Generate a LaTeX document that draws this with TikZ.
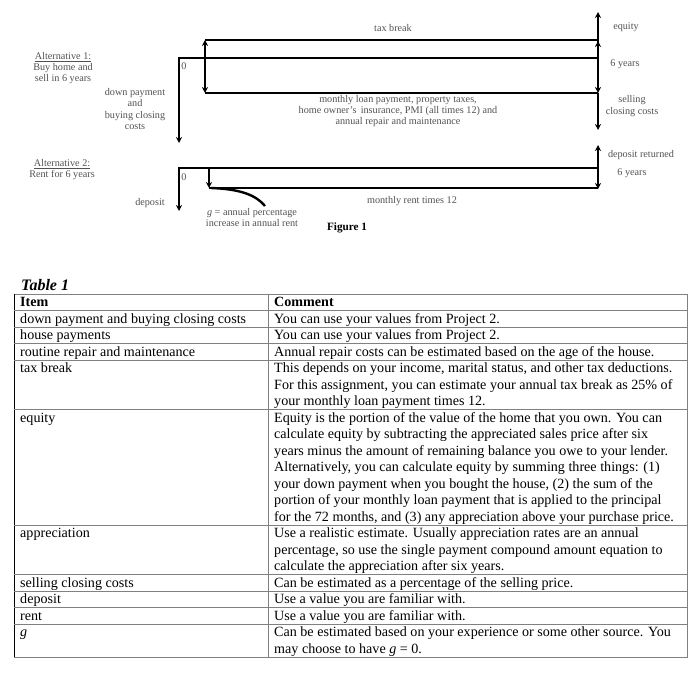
\documentclass[tikz,border=0pt]{standalone}
\usepackage{fontspec}
\setmainfont{Liberation Serif}
\usetikzlibrary{arrows.meta}
\tikzset{
	cf/.style={line width=2pt, line join=miter},
	lab/.style={text=black!68, font=\fontsize{10.2}{11}\selectfont, align=center, inner sep=0},
	cell/.style={anchor=north west, inner sep=0, align=left, font=\fontsize{14.1}{16.5}\selectfont},
	rule/.style={draw=black!50, line width=0.8pt}
}
\begin{document}
\begin{tikzpicture}[x=1pt,y=-1pt,>={Stealth[length=6pt,width=6pt]}]
			\useasboundingbox (0,0) rectangle (700,676);
			\draw[cf,->] (598,58) -- (179,58) -- (179,143);
			\draw[cf] (598,40) -- (205,40);
			\draw[cf] (598,93) -- (205,93);
			\draw[cf,<->] (205,40) -- (205,93);
			\draw[cf,->] (598,58) -- (598,12);
			\draw[cf,->] (598,58) -- (598,41);
			\draw[cf,->] (598,58) -- (598,93);
			\draw[cf,->] (598,93) -- (598,130);
			\draw[cf,->] (598,168) -- (179,168) -- (179,211);
			\draw[cf,->] (209,168) -- (209,188);
			\draw[cf] (209,188) -- (598,188);
			\draw[cf,->] (598,168) -- (598,145);
			\draw[cf,->] (598,168) -- (598,189);
			\draw[cf,line width=2.4pt] (211,188) .. controls (240,189) and (256,195) .. (265,206);
			\node[lab] (altA) at (63,68) {\underline{Alternative 1:}\\Buy home and\\sell in 6 years};
			\node[lab,font=\fontsize{10.2}{11.4}\selectfont] (down) at (135,109) {down payment\\and\\buying closing\\costs};
			\node[lab] (zeroA) at (184,66) {0};
			\node[lab] (tax) at (393,28) {tax break};
			\node[lab] (loan) at (398,111) {monthly loan payment, property taxes,\\home owner's\, insurance, PMI (all times 12) and\\annual repair and maintenance};
			\node[lab] (eq) at (626,27) {equity};
			\node[lab] (yrsA) at (625,64) {6 years};
			\node[lab,font=\fontsize{10.2}{11.8}\selectfont] (sell) at (632,106) {selling\\closing costs};
			\node[lab] (altB) at (62,170) {\underline{Alternative 2:}\\Rent for 6 years};
			\node[lab] (zeroB) at (184,177) {0};
			\node[lab] (dep) at (150,203) {deposit};
			\node[lab] (grow) at (252,218) {\textit{g} = annual percentage\\increase in annual rent};
			\node[lab] (rent) at (412,201) {monthly rent times 12};
			\node[lab] (ret) at (641,155) {deposit returned};
			\node[lab] (yrsB) at (632,173) {6 years};
			\node[inner sep=0,font=\fontsize{11.2}{13}\selectfont\bfseries] (fig) at (347,228) {Figure 1};
			\node[anchor=base west,inner sep=0,font=\fontsize{16}{18}\selectfont\bfseries\itshape] (tab) at (21,290) {Table 1};
			\draw[rule] (14,294) rectangle (687,657);
			\draw[draw=black,line width=1pt] (14,294) -- (14,657);
			\draw[rule] (268,294) -- (268,657);
			\foreach \y in {310.5,327,343.5,360,409.5,525,574.5,591,607.5,624}
				\draw[rule] (14,\y) -- (687,\y);
			\node[cell] (itemH) at (20,295) {\strut\textbf{Item}};
			\node[cell] (commH) at (274,295) {\strut\textbf{Comment}};
			\node[cell] (i1) at (20,311.5) {\strut down payment and buying closing costs};
			\node[cell] (c1) at (274,311.5) {\strut You can use your values from Project 2.};
			\node[cell] (i2) at (20,328) {\strut house payments};
			\node[cell] (c2) at (274,328) {\strut You can use your values from Project 2.};
			\node[cell] (i3) at (20,344.5) {\strut routine repair and maintenance};
			\node[cell] (c3) at (274,344.5) {\strut Annual repair costs can be estimated based on the age of the house.};
			\node[cell] (i4) at (20,361) {\strut tax break};
			\node[cell] (c4) at (274,361) {\strut This depends on your income, marital status, and other tax deductions.\\For this assignment, you can estimate your annual tax break as 25\% of\\your monthly loan payment times 12.};
			\node[cell] (i5) at (20,410.5) {\strut equity};
			\node[cell] (c5) at (274,410.5) {\strut Equity is the portion of the value of the home that you own. You can\\calculate equity by subtracting the appreciated sales price after six\\years minus the amount of remaining balance you owe to your lender.\\Alternatively, you can calculate equity by summing three things: (1)\\your down payment when you bought the house, (2) the sum of the\\portion of your monthly loan payment that is applied to the principal\\for the 72 months, and (3) any appreciation above your purchase price.};
			\node[cell] (i6) at (20,526) {\strut appreciation};
			\node[cell] (c6) at (274,526) {\strut Use a realistic estimate. Usually appreciation rates are an annual\\percentage, so use the single payment compound amount equation to\\calculate the appreciation after six years.};
			\node[cell] (i7) at (20,575.5) {\strut selling closing costs};
			\node[cell] (c7) at (274,575.5) {\strut Can be estimated as a percentage of the selling price.};
			\node[cell] (i8) at (20,592) {\strut deposit};
			\node[cell] (c8) at (274,592) {\strut Use a value you are familiar with.};
			\node[cell] (i9) at (20,608.5) {\strut rent};
			\node[cell] (c9) at (274,608.5) {\strut Use a value you are familiar with.};
			\node[cell] (i10) at (20,625) {\strut\textit{g}};
			\node[cell] (c10) at (274,625) {\strut Can be estimated based on your experience or some other source. You\\may choose to have \textit{g} = 0.};
\end{tikzpicture}
\end{document}
